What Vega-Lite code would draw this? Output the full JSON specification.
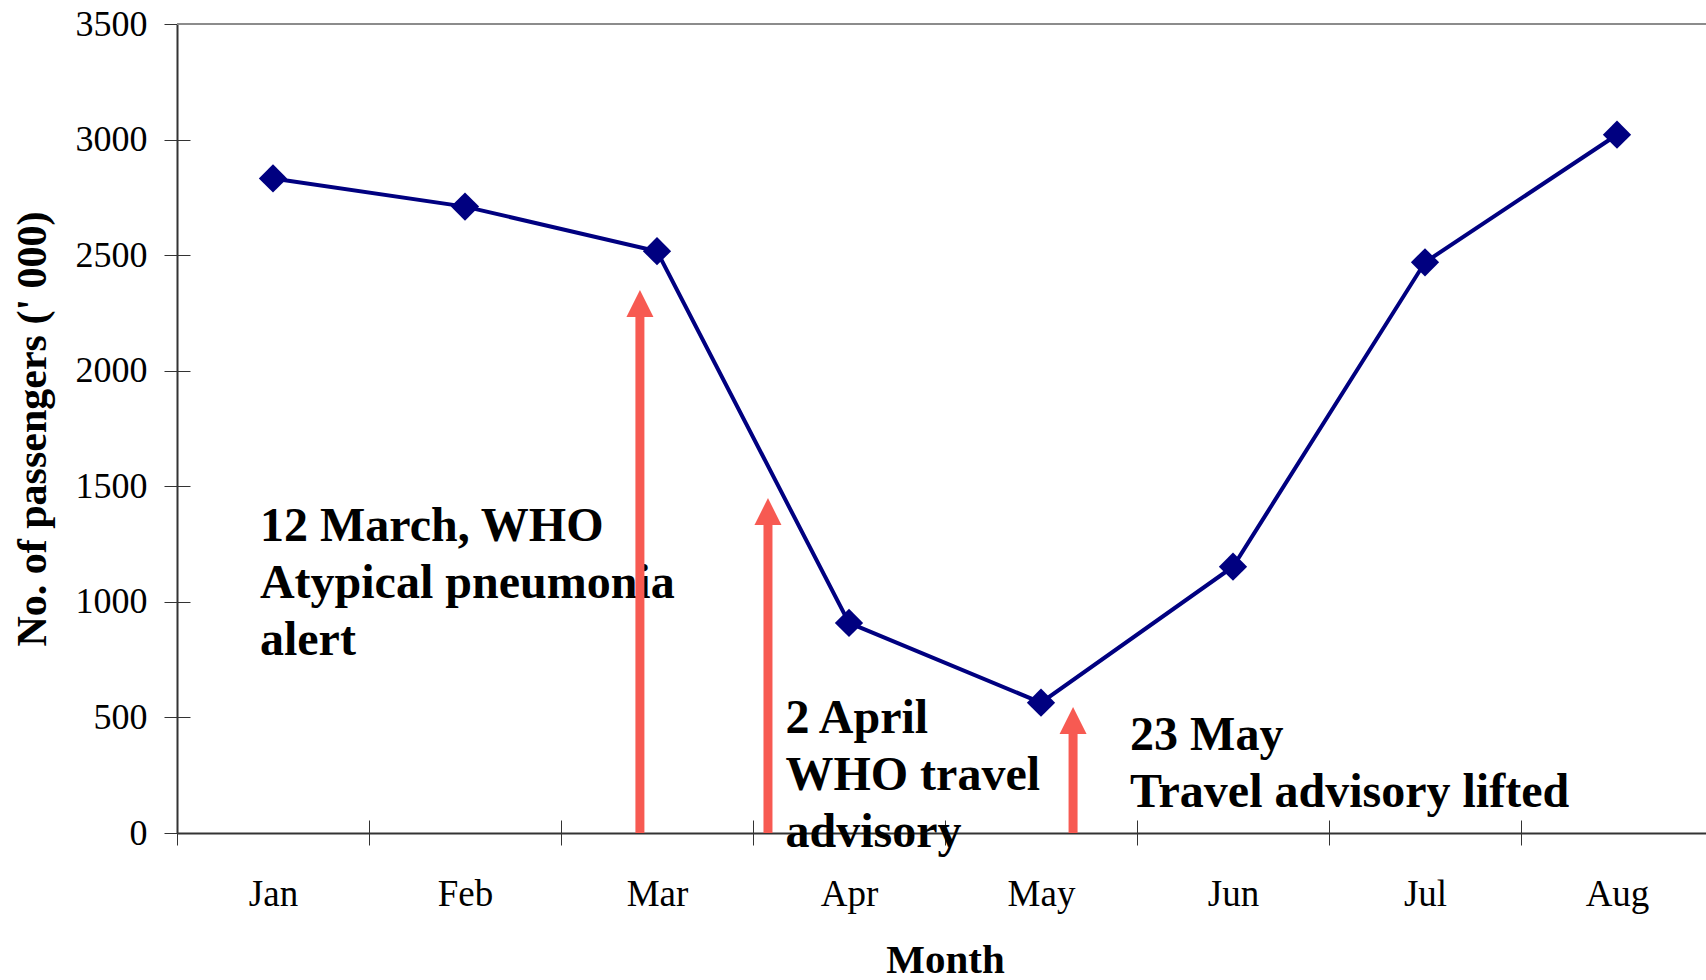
{
  "$schema": "https://vega.github.io/schema/vega-lite/v6.json",
  "width": 1529,
  "height": 809,
  "autosize": {"type": "none"},
  "padding": {"left": 177, "top": 24, "right": 0, "bottom": 147},
  "background": "white",
  "config": {
    "view": {"stroke": null},
    "font": "Liberation Serif",
    "axis": {
      "labelFont": "Liberation Serif",
      "titleFont": "Liberation Serif",
      "labelColor": "black",
      "titleColor": "black",
      "titleFontWeight": "bold",
      "domainColor": "#333333",
      "domainWidth": 2,
      "tickColor": "#333333",
      "tickWidth": 1,
      "grid": true,
      "gridColor": "#333333",
      "gridWidth": 1
    },
    "axisX": {
      "tickBand": "extent",
      "tickSize": 12,
      "gridDash": [0, 796, 13, 100],
      "labelAngle": 0,
      "labelFontSize": 37,
      "labelPadding": 31,
      "titleFontSize": 41,
      "titlePadding": 28
    },
    "axisY": {
      "tickSize": 13,
      "gridDash": [13, 5000],
      "labelFontSize": 36,
      "labelPadding": 17,
      "titleFontSize": 42,
      "titlePadding": 21
    }
  },
  "datasets": {
    "passengers": [
      {"month": "Jan", "passengers": 2832},
      {"month": "Feb", "passengers": 2710},
      {"month": "Mar", "passengers": 2517},
      {"month": "Apr", "passengers": 909},
      {"month": "May", "passengers": 564},
      {"month": "Jun", "passengers": 1152},
      {"month": "Jul", "passengers": 2469},
      {"month": "Aug", "passengers": 3021}
    ],
    "events": [
      {"event": "12 March", "month": "Mar", "top": 2349, "label": ["12 March, WHO", "Atypical pneumonia", "alert"], "label_month": "Jan", "label_value": 1263},
      {"event": "2 April", "month": "Apr", "top": 1449, "label": ["2 April", "WHO travel", "advisory"], "label_month": "Apr", "label_value": 433},
      {"event": "23 May", "month": "May", "top": 545, "label": ["23 May", "Travel advisory lifted"], "label_month": "May", "label_value": 359}
    ]
  },
  "layer": [
    {
      "data": {"values": [{"border": 3500}]},
      "mark": {"type": "rule", "color": "#8c8c8c", "strokeWidth": 2},
      "encoding": {"y": {"field": "border", "type": "quantitative", "title": "No. of passengers (' 000)"}}
    },
    {
      "data": {"name": "passengers"},
      "encoding": {
        "x": {
          "field": "month",
          "type": "ordinal",
          "title": "Month",
          "sort": ["Jan", "Feb", "Mar", "Apr", "May", "Jun", "Jul", "Aug"],
          "scale": {"domain": ["Jan", "Feb", "Mar", "Apr", "May", "Jun", "Jul", "Aug"], "range": [0, 1536], "paddingInner": 0, "paddingOuter": 0}
        },
        "y": {
          "field": "passengers",
          "type": "quantitative",
          "title": "No. of passengers (' 000)",
          "scale": {"domain": [0, 3500], "nice": false, "zero": true},
          "axis": {"values": [0, 500, 1000, 1500, 2000, 2500, 3000, 3500], "format": "d"}
        }
      },
      "layer": [
        {"mark": {"type": "line", "color": "#000080", "strokeWidth": 4}},
        {"mark": {"type": "point", "shape": "diamond", "filled": true, "color": "#000080", "size": 800, "opacity": 1}}
      ]
    },
    {
      "data": {"name": "events"},
      "transform": [{"filter": "datum.event == '12 March'"}],
      "layer": [
        {
          "mark": {"type": "text", "align": "left", "baseline": "alphabetic", "font": "Liberation Serif", "fontSize": 48, "fontWeight": "bold", "lineHeight": 57, "color": "black"},
          "encoding": {
            "x": {"field": "label_month", "type": "ordinal", "bandPosition": 0.432, "title": "Month"},
            "y": {"field": "label_value", "type": "quantitative", "title": "No. of passengers (' 000)"},
            "text": {"field": "label"}
          }
        },
        {
          "mark": {"type": "rule", "color": "#f75a52", "strokeWidth": 9, "yOffset": 27},
          "encoding": {
            "x": {"field": "month", "type": "ordinal", "bandPosition": 0.411, "title": "Month"},
            "y": {"field": "top", "type": "quantitative", "title": "No. of passengers (' 000)"},
            "y2": {"datum": 0}
          }
        },
        {
          "mark": {"type": "point", "shape": "M0,0L-1,2L1,2Z", "size": 729, "filled": true, "color": "#f75a52", "opacity": 1},
          "encoding": {
            "x": {"field": "month", "type": "ordinal", "bandPosition": 0.411, "title": "Month"},
            "y": {"field": "top", "type": "quantitative", "title": "No. of passengers (' 000)"}
          }
        }
      ]
    },
    {
      "data": {"name": "events"},
      "transform": [{"filter": "datum.event == '2 April'"}],
      "layer": [
        {
          "mark": {"type": "text", "align": "left", "baseline": "alphabetic", "font": "Liberation Serif", "fontSize": 48, "fontWeight": "bold", "lineHeight": 57, "color": "black"},
          "encoding": {
            "x": {"field": "label_month", "type": "ordinal", "bandPosition": 0.169, "title": "Month"},
            "y": {"field": "label_value", "type": "quantitative", "title": "No. of passengers (' 000)"},
            "text": {"field": "label"}
          }
        },
        {
          "mark": {"type": "rule", "color": "#f75a52", "strokeWidth": 9, "yOffset": 27},
          "encoding": {
            "x": {"field": "month", "type": "ordinal", "bandPosition": 0.078, "title": "Month"},
            "y": {"field": "top", "type": "quantitative", "title": "No. of passengers (' 000)"},
            "y2": {"datum": 0}
          }
        },
        {
          "mark": {"type": "point", "shape": "M0,0L-1,2L1,2Z", "size": 729, "filled": true, "color": "#f75a52", "opacity": 1},
          "encoding": {
            "x": {"field": "month", "type": "ordinal", "bandPosition": 0.078, "title": "Month"},
            "y": {"field": "top", "type": "quantitative", "title": "No. of passengers (' 000)"}
          }
        }
      ]
    },
    {
      "data": {"name": "events"},
      "transform": [{"filter": "datum.event == '23 May'"}],
      "layer": [
        {
          "mark": {"type": "text", "align": "left", "baseline": "alphabetic", "font": "Liberation Serif", "fontSize": 48, "fontWeight": "bold", "lineHeight": 57, "color": "black"},
          "encoding": {
            "x": {"field": "label_month", "type": "ordinal", "bandPosition": 0.964, "title": "Month"},
            "y": {"field": "label_value", "type": "quantitative", "title": "No. of passengers (' 000)"},
            "text": {"field": "label"}
          }
        },
        {
          "mark": {"type": "rule", "color": "#f75a52", "strokeWidth": 9, "yOffset": 27},
          "encoding": {
            "x": {"field": "month", "type": "ordinal", "bandPosition": 0.667, "title": "Month"},
            "y": {"field": "top", "type": "quantitative", "title": "No. of passengers (' 000)"},
            "y2": {"datum": 0}
          }
        },
        {
          "mark": {"type": "point", "shape": "M0,0L-1,2L1,2Z", "size": 729, "filled": true, "color": "#f75a52", "opacity": 1},
          "encoding": {
            "x": {"field": "month", "type": "ordinal", "bandPosition": 0.667, "title": "Month"},
            "y": {"field": "top", "type": "quantitative", "title": "No. of passengers (' 000)"}
          }
        }
      ]
    }
  ]
}
